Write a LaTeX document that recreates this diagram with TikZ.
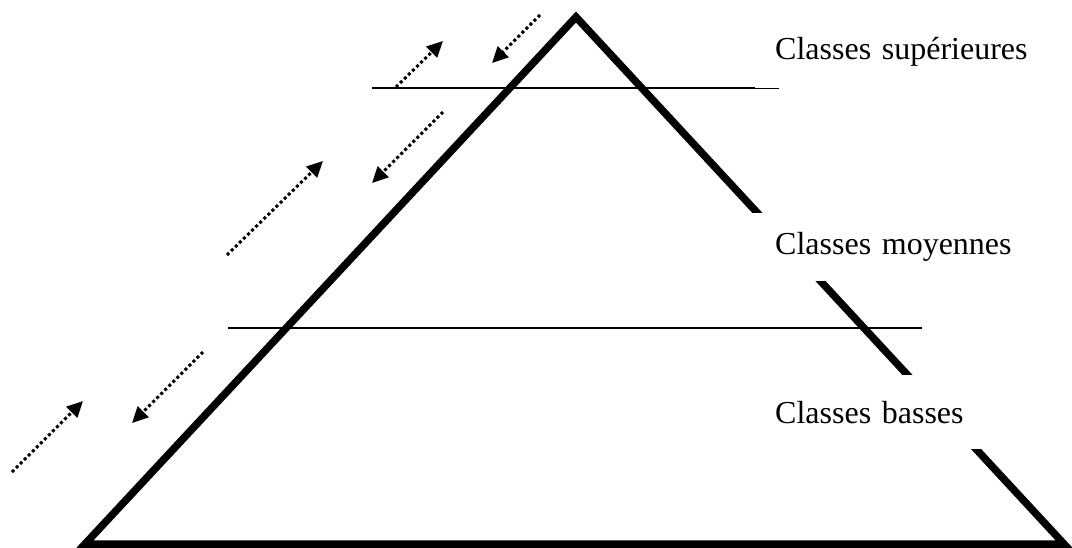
\documentclass[tikz,border=0pt]{standalone}
\usepackage{fontspec}
\setmainfont{Liberation Serif}
\usetikzlibrary{arrows.meta}
\tikzset{
  pyr/.style={line width=7.5pt, line join=miter},
  level/.style={line width=2.5pt},
  mob/.style={line width=3pt, dash pattern=on 3pt off 2.7pt, -{Triangle[length=16pt,width=15pt]}},
  lab/.style={fill=white, inner sep=0pt, anchor=north west, minimum width=317pt,
    text width=297pt, align=left, inner xsep=10pt,
    font=\fontsize{32}{38}\selectfont},
}
\begin{document}
\begin{tikzpicture}[x=1pt,y=-1pt]
\useasboundingbox (0,0) rectangle (1072,547);
% pyramid corners
\coordinate (bl) at (85,544);
\coordinate (top) at (576,17);
\coordinate (br) at (1064,544);
\draw[pyr] (bl) -- (top) -- (br) -- cycle;
% level lines
\coordinate (l1a) at (372,88);
\coordinate (l1b) at (779,88);
\coordinate (l2a) at (228,328);
\coordinate (l2b) at (922,328);
\draw[level] (l1a) -- (l1b);
\draw[level] (l2a) -- (l2b);
% mobility arrows
\coordinate (a1s) at (396,87);  \coordinate (a1e) at (443,41);
\coordinate (a2s) at (540,15);  \coordinate (a2e) at (492,63);
\coordinate (a3s) at (227,255); \coordinate (a3e) at (323,161);
\coordinate (a4s) at (443,112); \coordinate (a4e) at (372,183);
\coordinate (a5s) at (12,472);  \coordinate (a5e) at (83,401);
\coordinate (a6s) at (203,352); \coordinate (a6e) at (132,423);
\draw[mob] (a1s) -- (a1e);
\draw[mob] (a2s) -- (a2e);
\draw[mob] (a3s) -- (a3e);
\draw[mob] (a4s) -- (a4e);
\draw[mob] (a5s) -- (a5e);
\draw[mob] (a6s) -- (a6e);
% labels (white boxes cover the right side)
\node[lab, minimum height=72pt] (sup) at (755,16) {\hspace*{10pt}Classes supérieures};
\node[lab, minimum height=68pt] (moy) at (745,213) {\hspace*{20pt}Classes moyennes};
\node[lab, minimum height=74pt] (bas) at (745,375) {\hspace*{20pt}Classes basses};
\end{tikzpicture}
\end{document}
